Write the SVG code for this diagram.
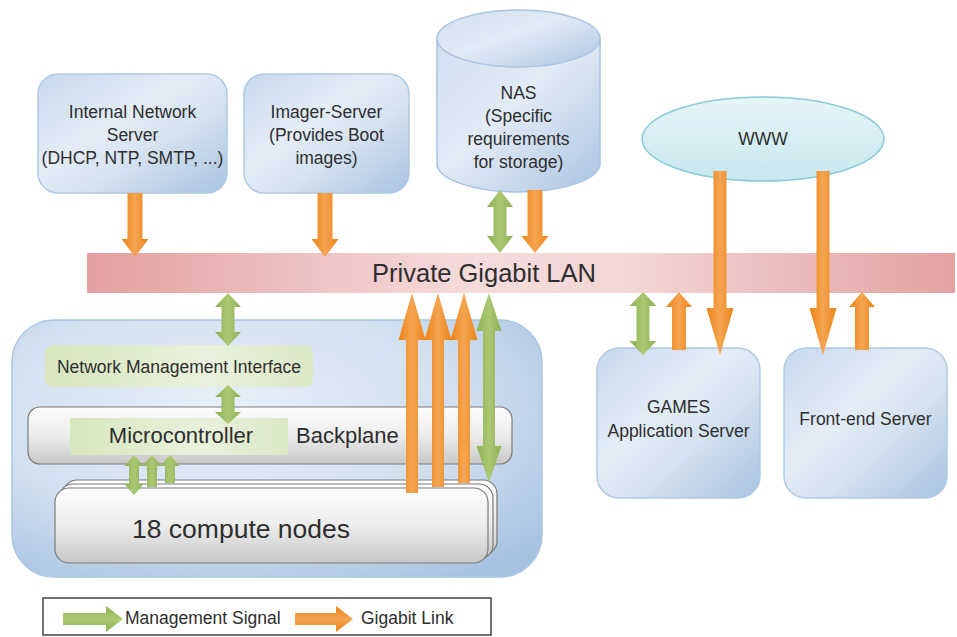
<svg xmlns="http://www.w3.org/2000/svg" width="957" height="637" viewBox="0 0 957 637">
<defs>
<linearGradient id="gBlue" x1="0" y1="0" x2="1" y2="1">
<stop offset="0" stop-color="#c6d8ed"/><stop offset="0.4" stop-color="#e4edf7"/><stop offset="0.6" stop-color="#d6e3f1"/><stop offset="1" stop-color="#a9c3e0"/>
</linearGradient>
<radialGradient id="gCont" cx="0.4" cy="0.35" r="0.8">
<stop offset="0" stop-color="#e8eff8"/><stop offset="0.55" stop-color="#d1e0f0"/><stop offset="1" stop-color="#a6c2e1"/>
</radialGradient>
<linearGradient id="gNas" x1="0" y1="0" x2="1" y2="1">
<stop offset="0" stop-color="#d0dff0"/><stop offset="0.45" stop-color="#e2ebf6"/><stop offset="1" stop-color="#aac4e1"/>
</linearGradient>
<linearGradient id="gWww" x1="0" y1="0" x2="0" y2="1">
<stop offset="0" stop-color="#e6f5f8"/><stop offset="1" stop-color="#c8e7ee"/>
</linearGradient>
<linearGradient id="gLan" x1="0" y1="0" x2="1" y2="0">
<stop offset="0" stop-color="#e4a0a0"/><stop offset="0.45" stop-color="#f6dcdc"/><stop offset="0.62" stop-color="#f3d6d6"/><stop offset="1" stop-color="#e4a2a2"/>
</linearGradient>
<linearGradient id="gGray" x1="0" y1="0" x2="0" y2="1">
<stop offset="0" stop-color="#fdfdfd"/><stop offset="0.5" stop-color="#ececec"/><stop offset="1" stop-color="#c8c8c8"/>
</linearGradient>
<linearGradient id="gPale" x1="0" y1="0" x2="1" y2="0">
<stop offset="0" stop-color="#d6e6bd"/><stop offset="0.6" stop-color="#e9f1dc"/><stop offset="1" stop-color="#dbe8c6"/>
</linearGradient>
<linearGradient id="gOr" x1="0" y1="0" x2="1" y2="0">
<stop offset="0" stop-color="#ec8313"/><stop offset="0.5" stop-color="#f5a553"/><stop offset="1" stop-color="#ec8313"/>
</linearGradient>
<linearGradient id="gGr" x1="0" y1="0" x2="1" y2="0">
<stop offset="0" stop-color="#8cb153"/><stop offset="0.5" stop-color="#abc872"/><stop offset="1" stop-color="#8cb153"/>
</linearGradient>
<linearGradient id="gOrH" x1="0" y1="0" x2="0" y2="1">
<stop offset="0" stop-color="#ec8313"/><stop offset="0.5" stop-color="#f5a553"/><stop offset="1" stop-color="#ec8313"/>
</linearGradient>
<linearGradient id="gGrH" x1="0" y1="0" x2="0" y2="1">
<stop offset="0" stop-color="#8cb153"/><stop offset="0.5" stop-color="#abc872"/><stop offset="1" stop-color="#8cb153"/>
</linearGradient>
</defs>
<style>
text{font-family:"Liberation Sans",Arial,sans-serif;fill:#2e2e2e}
.lbl{font-size:17.5px;text-anchor:middle}
.box{fill:url(#gBlue);stroke:#b0c9e4;stroke-width:1.5}
.gray{fill:url(#gGray);stroke:#7a7a7a;stroke-width:1.2}
.pale{fill:url(#gPale)}
.or{fill:url(#gOr)}
.gr{fill:url(#gGr)}
</style>
<rect x="0" y="0" width="957" height="637" fill="#ffffff"/>

<g id="lan">
<rect x="87" y="253" width="868" height="40" fill="url(#gLan)"/>
<text x="484" y="282" style="font-size:25.5px;text-anchor:middle">Private Gigabit LAN</text>
</g>

<g id="internal-network-server">
<rect class="box" x="38" y="74" width="189" height="119" rx="20"/>
<text class="lbl" x="132.5" y="118">Internal Network</text>
<text class="lbl" x="132.5" y="141">Server</text>
<text class="lbl" x="132.5" y="164">(DHCP, NTP, SMTP, ...)</text>
</g>

<g id="imager-server">
<rect class="box" x="244" y="74" width="165" height="119" rx="20"/>
<text class="lbl" x="326.5" y="118">Imager-Server</text>
<text class="lbl" x="326.5" y="141">(Provides Boot</text>
<text class="lbl" x="326.5" y="164">images)</text>
</g>

<g id="nas">
<path d="M437,38.5 L437,163.5 A81.5,28.5 0 0 0 600,163.5 L600,38.5 Z" fill="url(#gNas)" stroke="#a9c4e2" stroke-width="1.5"/>
<ellipse cx="518.5" cy="38.5" rx="81.5" ry="28.5" fill="url(#gNas)" stroke="#a9c4e2" stroke-width="1.5"/>
<text class="lbl" x="518.5" y="99">NAS</text>
<text class="lbl" x="518.5" y="122">(Specific</text>
<text class="lbl" x="518.5" y="145">requirements</text>
<text class="lbl" x="518.5" y="168">for storage)</text>
</g>

<g id="www">
<ellipse cx="763" cy="139" rx="121" ry="42" fill="url(#gWww)" stroke="#88cad7" stroke-width="1.5"/>
<text class="lbl" x="763" y="145">WWW</text>
</g>

<g id="games-server">
<rect class="box" x="597" y="348" width="163" height="150" rx="22"/>
<text class="lbl" x="678.5" y="413">GAMES</text>
<text class="lbl" x="678.5" y="437">Application Server</text>
</g>

<g id="front-end-server">
<rect class="box" x="784" y="348" width="163" height="150" rx="22"/>
<text class="lbl" x="865.5" y="425">Front-end Server</text>
</g>

<g id="cluster">
<rect x="12" y="320" width="530" height="257" rx="42" fill="url(#gCont)" stroke="#abc6e3" stroke-width="1.5"/>
<g id="nmi">
<rect class="pale" x="45" y="345" width="268" height="42" rx="8"/>
<text x="179" y="373" style="font-size:17.5px;text-anchor:middle">Network Management Interface</text>
</g>
<g id="backplane">
<rect class="gray" x="28" y="407" width="484" height="57" rx="12"/>
<text x="296" y="443" style="font-size:22px">Backplane</text>
</g>
<g id="microcontroller">
<rect class="pale" x="70" y="418" width="218" height="37"/>
<text x="181" y="443" style="font-size:22px;text-anchor:middle">Microcontroller</text>
</g>
<g id="compute-nodes">
<rect class="gray" x="63" y="480" width="434" height="75" rx="14"/>
<rect class="gray" x="59" y="484" width="434" height="75" rx="14"/>
<rect class="gray" x="55" y="488" width="433" height="75" rx="14"/>
<text x="132" y="538" style="font-size:26.5px">18 compute nodes</text>
</g>
</g>

<g id="connectors">
<polygon class="or" points="127.5,193 142.5,193 142.5,239 148.5,239 135,257 121.5,239 127.5,239"/>
<polygon class="or" points="317.5,193 332.5,193 332.5,239 338.5,239 325,257 311.5,239 317.5,239"/>
<polygon class="gr" points="500,190 513,207 506.5,207 506.5,236 513,236 500,253 487,236 493.5,236 493.5,207 487,207"/>
<polygon class="or" points="527.5,190 542.5,190 542.5,236 548.5,236 535,253 521.5,236 527.5,236"/>
<polygon class="or" points="713.5,171 726.5,171 726.5,308 733.5,308 720,355 706.5,308 713.5,308"/>
<polygon class="or" points="816.5,171 829.5,171 829.5,308 836.5,308 823,355 809.5,308 816.5,308"/>
<polygon class="gr" points="643,292 656.5,306 649.5,306 649.5,341 656.5,341 643,355 629.5,341 636.5,341 636.5,306 629.5,306"/>
<polygon class="or" points="679,292 692,307 686,307 686,350 672,350 672,307 666,307"/>
<polygon class="or" points="862,292 875,307 869,307 869,350 855,350 855,307 849,307"/>
<polygon class="gr" points="228,293 241,307 234.5,307 234.5,332 241,332 228,346 215,332 221.5,332 221.5,307 215,307"/>
<polygon class="gr" points="228,385 241,397 234.5,397 234.5,412 241,412 228,424 215,412 221.5,412 221.5,397 215,397"/>
<polygon class="gr" points="170,455 179.5,466 175,466 175,483 165,483 165,466 160.5,466"/>
<polygon class="gr" points="152,455 161.5,466 157,466 157,487 147,487 147,466 142.5,466"/>
<polygon class="gr" points="134,455 143.5,466 139,466 139,484 143.5,484 134,495 124.5,484 129,484 129,466 124.5,466"/>
<polygon class="gr" points="489,293 501.5,331 495,331 495,446 501.5,446 489,482 476.5,446 483,446 483,331 476.5,331"/>
<polygon class="or" points="464,293 477.5,340 470,340 470,483 458,483 458,340 450.5,340"/>
<polygon class="or" points="438,293 451.5,340 444,340 444,487 432,487 432,340 424.5,340"/>
<polygon class="or" points="412,293 425.5,340 418,340 418,493 406,493 406,340 398.5,340"/>
</g>

<g id="legend">
<rect x="43" y="598" width="448" height="37" fill="#ffffff" stroke="#444444" stroke-width="1.5"/>
<polygon fill="url(#gGrH)" points="63,613 106,613 106,606 123,619 106,632 106,625 63,625"/>
<text x="125" y="624" style="font-size:17.5px">Management Signal</text>
<polygon fill="url(#gOrH)" points="295,613 336,613 336,606 353,619 336,632 336,625 295,625"/>
<text x="361" y="624" style="font-size:17.5px">Gigabit Link</text>
</g>
</svg>
